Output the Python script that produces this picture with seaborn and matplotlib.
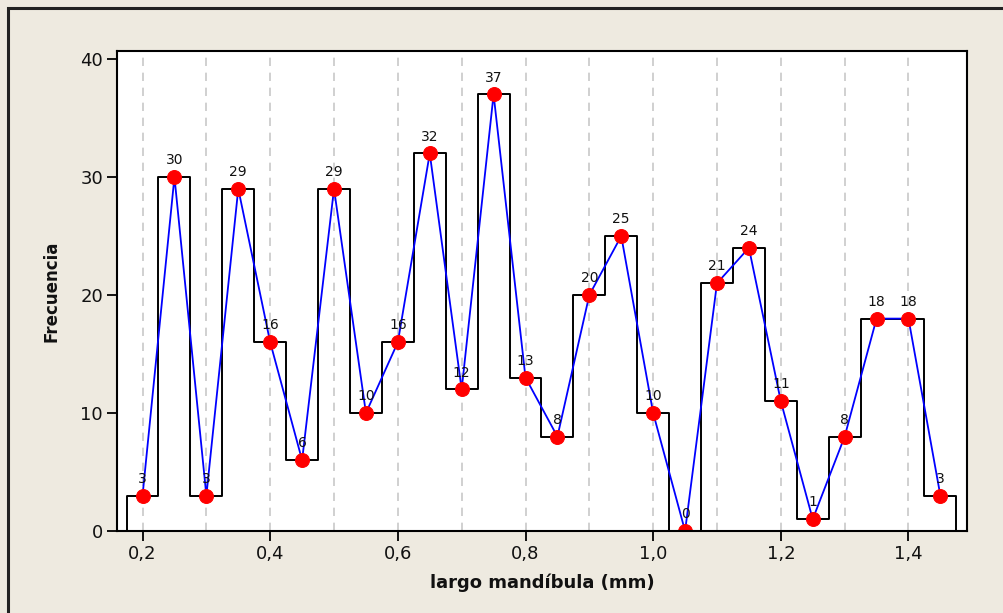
import matplotlib
matplotlib.use("Agg")
import matplotlib.pyplot as plt
import seaborn as sns
import numpy as np
import pandas as pd
from matplotlib.ticker import MultipleLocator, FuncFormatter
from matplotlib.patches import Rectangle

# ---- data ----
bin_centers = [0.20, 0.25, 0.30, 0.35, 0.40, 0.45, 0.50, 0.55, 0.60, 0.65,
               0.70, 0.75, 0.80, 0.85, 0.90, 0.95, 1.00, 1.05, 1.10, 1.15,
               1.20, 1.25, 1.30, 1.35, 1.40, 1.45]
frequencies = [3, 30, 3, 29, 16, 6, 29, 10, 16, 32,
               12, 37, 13, 8, 20, 25, 10, 0, 21, 24,
               11, 1, 8, 18, 18, 3]
x_ticks = [0.2, 0.4, 0.6, 0.8, 1.0, 1.2, 1.4]
y_ticks = [0, 10, 20, 30, 40]
x_label = "largo mandíbula (mm)"
y_label = "Frecuencia"

df = pd.DataFrame({"x": bin_centers, "freq": frequencies})

sns.set_theme(style="white")
plt.rcParams['font.family'] = ['DejaVu Sans']

bg = "#EEEAE0"
fig = plt.figure(figsize=(10.04, 6.13), dpi=100, facecolor=bg)
ax = fig.add_axes([117/1004, 1-531/613, (967-117)/1004, (531-51)/613])
ax.set_facecolor("white")

# histogram outline (weighted by frequencies)
sns.histplot(data=df, x="x", weights="freq", binwidth=0.05, binrange=(0.175, 1.475),
             element="step", fill=True, color="white", edgecolor="black",
             linewidth=1.4, alpha=1, ax=ax, zorder=2)
for coll in ax.collections:
    coll.set_facecolor("none")

# frequency polygon
sns.lineplot(data=df, x="x", y="freq", color="blue", linewidth=1.3, marker="o",
             markersize=10, markerfacecolor="red", markeredgecolor="red",
             ax=ax, zorder=4)

for xv, yv in zip(bin_centers, frequencies):
    ax.annotate(str(yv), (xv, yv), xytext=(0, 7), textcoords="offset points",
                ha="center", va="bottom", fontsize=10, color="#111111", zorder=5)

ax.set_xlim(0.160, 1.4917)
ax.set_ylim(0, 40.68)
ax.set_xticks(x_ticks)
ax.set_yticks(y_ticks)
ax.xaxis.set_minor_locator(MultipleLocator(0.1))
ax.xaxis.set_major_formatter(FuncFormatter(lambda v, p: f"{v:.1f}".replace(".", ",")))
ax.tick_params(axis="both", which="major", direction="out", length=7, width=1.3,
               color="black", labelsize=13, labelcolor="#111111", pad=3,
               bottom=True, left=True)
ax.tick_params(axis="x", which="minor", length=0)
ax.grid(False)
ax.grid(True, axis="x", which="both", color="#c8c8c8", linestyle=(0, (5, 4)), linewidth=1.2, zorder=0)
ax.set_axisbelow(True)

for s in ax.spines.values():
    s.set_visible(True)
    s.set_color("black")
    s.set_linewidth(1.5)
    s.set_zorder(6)

ax.set_xlabel(x_label, fontsize=13, fontweight="bold", color="#111111", labelpad=8)
ax.set_ylabel(y_label, fontsize=12, fontweight="bold", color="#111111", labelpad=14)

# outer frame
fig.patches.append(Rectangle((8/1004, -0.1), 1.2, 1-8/613 + 0.1, transform=fig.transFigure,
                             fill=False, edgecolor="#222222", linewidth=2.2, zorder=10))

fig.savefig("out.png", dpi=100, facecolor=bg)
